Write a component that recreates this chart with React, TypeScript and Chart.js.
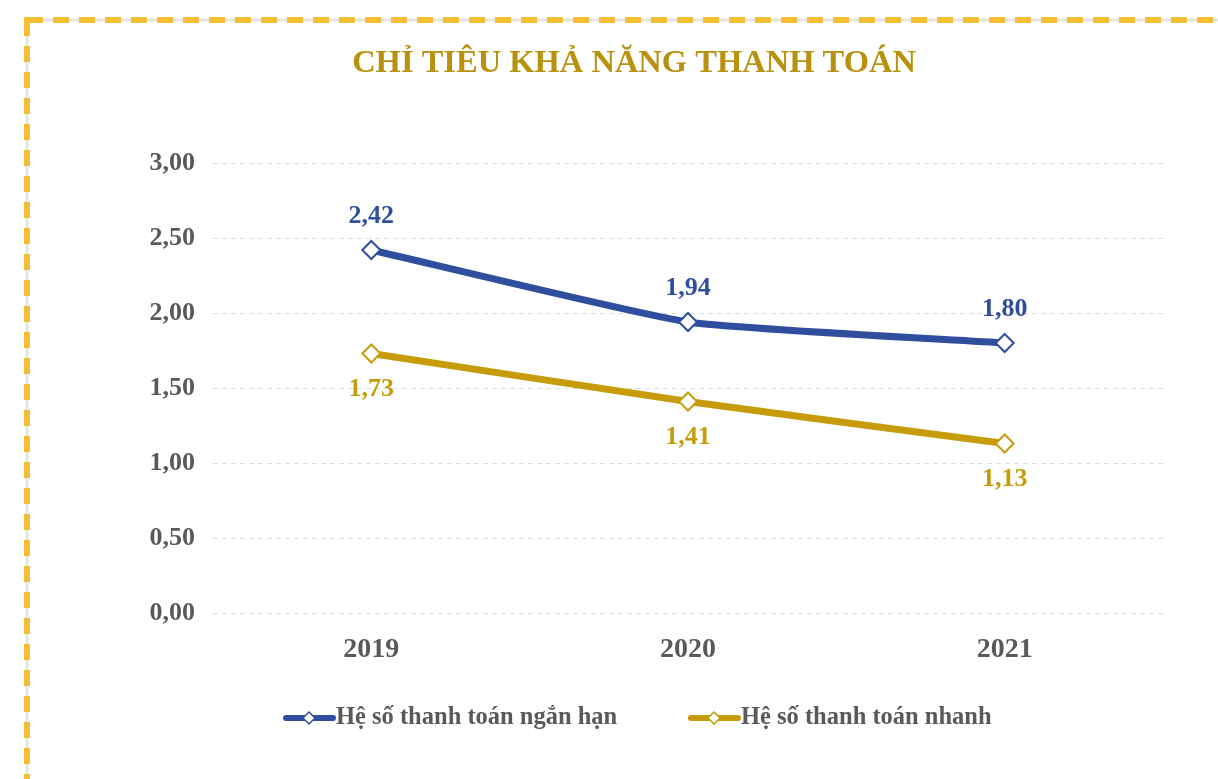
import React, { useEffect, useRef } from "react";
import { Chart, registerables } from "chart.js";

Chart.register(...registerables);

const title = "CHỈ TIÊU KHẢ NĂNG THANH TOÁN";
const categories = ["2019", "2020", "2021"];
const seriesNames = ["Hệ số thanh toán ngắn hạn", "Hệ số thanh toán nhanh"];
const shortTerm = [2.42, 1.94, 1.8];
const quick = [1.73, 1.41, 1.13];
const yTicks = [0, 0.5, 1, 1.5, 2, 2.5, 3];

const BLUE = "#2F4F9E";
const GOLD = "#C79C0C";
const TITLE_GOLD = "#B8920E";
const GRAY = "#595959";
const FONT = "'Liberation Serif', 'DejaVu Serif', serif";

const fmt = (v: number) => v.toFixed(2).replace(".", ",");

const decorPlugin = {
  id: "decor",
  beforeDraw(chart: any) {
    const ctx = chart.ctx;
    ctx.save();
    ctx.fillStyle = "#ffffff";
    ctx.fillRect(0, 0, chart.width, chart.height);
    // frame
    ctx.strokeStyle = "#E3E3E3";
    ctx.lineWidth = 3;
    ctx.strokeRect(27, 20, 1400, 1000);
    ctx.strokeStyle = "#F6BE33";
    ctx.lineWidth = 6;
    ctx.setLineDash([16, 10]);
    ctx.strokeRect(27, 20, 1400, 1000);
    ctx.setLineDash([]);
    // title
    ctx.fillStyle = TITLE_GOLD;
    ctx.font = `bold 32.5px ${FONT}`;
    ctx.textAlign = "center";
    ctx.textBaseline = "middle";
    ctx.fillText(title, 634, 64);
    ctx.restore();
  },
  afterDatasetsDraw(chart: any) {
    const ctx = chart.ctx;
    ctx.save();
    ctx.font = `bold 26px ${FONT}`;
    ctx.textAlign = "center";
    ctx.textBaseline = "middle";
    chart.data.datasets.forEach((ds: any, di: number) => {
      const meta = chart.getDatasetMeta(di);
      meta.data.forEach((pt: any, i: number) => {
        ctx.fillStyle = ds.borderColor;
        const dy = di === 0 ? -34 : 36;
        ctx.fillText(fmt(ds.data[i]), pt.x, pt.y + dy);
      });
    });
    // legend
    const items = [
      { x: 283, color: BLUE, text: seriesNames[0] },
      { x: 688, color: GOLD, text: seriesNames[1] },
    ];
    const ly = 718;
    items.forEach((it) => {
      ctx.strokeStyle = it.color;
      ctx.lineWidth = 6;
      ctx.lineCap = "round";
      ctx.beginPath();
      ctx.moveTo(it.x + 3, ly);
      ctx.lineTo(it.x + 50, ly);
      ctx.stroke();
      ctx.lineCap = "butt";
      const cx = it.x + 26;
      ctx.fillStyle = "#fff";
      ctx.lineWidth = 1.5;
      ctx.beginPath();
      ctx.moveTo(cx, ly - 6);
      ctx.lineTo(cx + 6, ly);
      ctx.lineTo(cx, ly + 6);
      ctx.lineTo(cx - 6, ly);
      ctx.closePath();
      ctx.fill();
      ctx.stroke();
      ctx.fillStyle = GRAY;
      ctx.font = `bold 24.5px ${FONT}`;
      ctx.textAlign = "left";
      ctx.fillText(it.text, it.x + 53, ly);
    });
    ctx.restore();
  },
};

export default function App() {
  const ref = useRef<HTMLCanvasElement | null>(null);
  useEffect(() => {
    if (!ref.current) return;
    const chart = new Chart(ref.current, {
      type: "line",
      data: {
        labels: categories,
        datasets: [
          {
            label: seriesNames[0],
            data: shortTerm,
            borderColor: BLUE,
            backgroundColor: "#ffffff",
            borderWidth: 7,
            pointStyle: "rectRot",
            pointRadius: 9,
            pointBorderWidth: 2,
            pointBackgroundColor: "#ffffff",
            pointBorderColor: BLUE,
            tension: 0.15,
          },
          {
            label: seriesNames[1],
            data: quick,
            borderColor: GOLD,
            backgroundColor: "#ffffff",
            borderWidth: 7,
            pointStyle: "rectRot",
            pointRadius: 9,
            pointBorderWidth: 2,
            pointBackgroundColor: "#ffffff",
            pointBorderColor: GOLD,
            tension: 0.15,
          },
        ],
      },
      options: {
        animation: false,
        responsive: false,
        layout: { padding: { left: 0, right: 55, top: 163, bottom: 106 } },
        plugins: {
          legend: { display: false },
          title: { display: false },
          tooltip: { enabled: false },
        },
        scales: {
          x: {
            offset: true,
            grid: { display: false, drawTicks: false },
            border: { display: false },
            ticks: {
              color: GRAY,
              padding: 20,
              font: { family: FONT, size: 28, weight: "bold" },
            },
            afterFit: (s: any) => {
              s.height = 60;
            },
          },
          y: {
            min: 0,
            max: 3,
            afterBuildTicks: (s: any) => {
              s.ticks = yTicks.map((v) => ({ value: v }));
            },
            grid: {
              color: "#DDDDDD",
              lineWidth: 1,
              drawTicks: false,
            },
            border: { display: false, dash: [5, 4] },
            ticks: {
              color: GRAY,
              padding: 18,
              font: { family: FONT, size: 26, weight: "bold" },
              callback: (v: any) => fmt(Number(v)),
            },
            afterFit: (s: any) => {
              s.width = 213;
            },
          },
        },
      },
      plugins: [decorPlugin],
    });
    return () => chart.destroy();
  }, []);
  return (
    <div style={{ position: "absolute", left: 0, top: 0, width: 1218, height: 779 }}>
      <canvas ref={ref} width={1218} height={779} style={{ display: "block" }} />
    </div>
  );
}
